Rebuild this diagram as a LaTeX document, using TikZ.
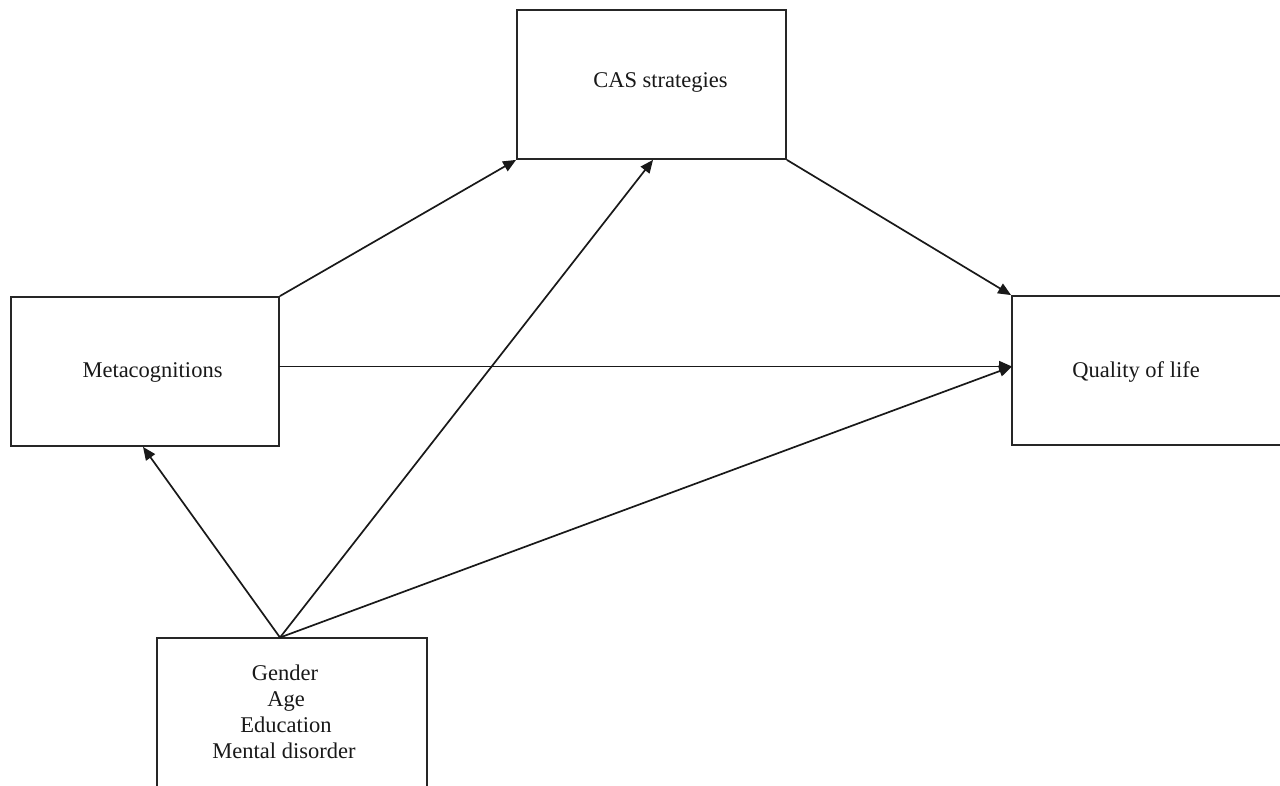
\documentclass[tikz,border=0pt]{standalone}
\usepackage{fontspec}
\setmainfont{Liberation Serif}
\usetikzlibrary{arrows.meta}
\tikzset{
  box/.style={draw=black!85, line width=1.8pt, rectangle, inner sep=0pt},
  lbl/.style={anchor=base, inner sep=0pt, font=\fontsize{22.5}{26}\selectfont, text=black!90},
  conn/.style={draw=black!90, line width=1.7pt, -{Triangle[length=13pt,width=11pt]}}
}
\begin{document}
\begin{tikzpicture}[x=1pt,y=-1pt]
\useasboundingbox (0,0) rectangle (1280,785);
\clip (0,0) rectangle (1280,785);
\fill[white] (0,0) rectangle (1280,785);
% boxes
\node[box, minimum width=269pt, minimum height=149pt] (cas) at (651.5,84.5) {};
\node[box, minimum width=268pt, minimum height=149pt] (meta) at (145,371.5) {};
\node[box, minimum width=280pt, minimum height=149pt] (qol) at (1152,370.5) {};
\node[box, minimum width=270pt, minimum height=160pt] (gen) at (292,718) {};
% labels
\node[lbl] (tcas) at (660.5,87.5) {CAS strategies};
\node[lbl] (tmeta) at (152.5,377) {Metacognitions};
\node[lbl] (tqol) at (1136,377) {Quality of life};
\node[lbl] (g1) at (285,680) {Gender};
\node[lbl] (g2) at (286,706) {Age};
\node[lbl] (g3) at (286,732) {Education};
\node[lbl] (g4) at (284,758) {Mental disorder};
% connectors
\coordinate (apex) at (280,637.5);
\coordinate (mright) at (279,366.5);
\coordinate (qleft) at (1012,366.5);
\draw[conn] (meta.north east) -- (cas.south west);
\draw[conn] (cas.south east) -- (qol.north west);
\draw[conn] (mright) -- (qleft);
\draw[conn] (apex) -- ([xshift=-2pt]meta.south);
\draw[conn] (apex) -- ([xshift=1.5pt]cas.south);
\draw[conn] (apex) -- (qleft);
\end{tikzpicture}
\end{document}
